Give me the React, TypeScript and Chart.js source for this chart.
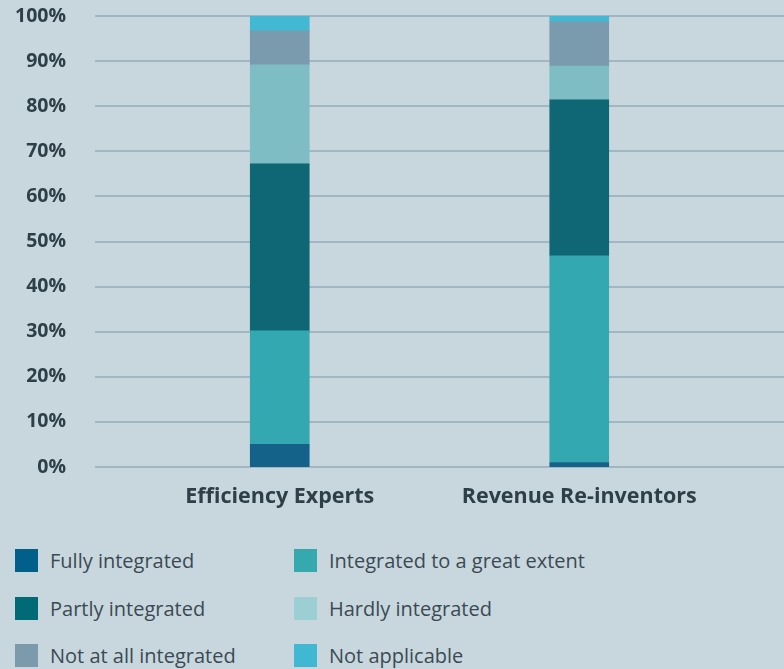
import React, { useEffect, useRef } from "react";
import { Chart, registerables } from "chart.js";

Chart.register(...registerables);

const categories = ["Efficiency Experts", "Revenue Re-inventors"];
const seriesNames = [
  "Fully integrated",
  "Integrated to a great extent",
  "Partly integrated",
  "Hardly integrated",
  "Not at all integrated",
  "Not applicable",
];
const fullyIntegrated = [5, 1];
const greatExtent = [25.2, 45.8];
const partlyIntegrated = [37, 34.6];
const hardlyIntegrated = [22, 7.5];
const notAtAll = [7.5, 9.8];
const notApplicable = [3.3, 1.3];
const yTicks = [0, 10, 20, 30, 40, 50, 60, 70, 80, 90, 100];

const barColors = ["#14628a", "#34a8b0", "#0f6674", "#7dbdc3", "#7a9bad", "#42b9d2"];
const legendColors = ["#00608a", "#36a9ae", "#006a76", "#9ccfd3", "#7b9bad", "#41b8d2"];

const BG = "#c8d7de";
const GRID = "#a2b6c1";
const TEXT = "#2f3f48";
const FONT = "'Open Sans', 'Noto Sans', sans-serif";

const gridPlugin = {
  id: "extendedGrid",
  beforeDatasetsDraw(chart: any) {
    const { ctx, scales, chartArea, width } = chart;
    const y = scales.y;
    ctx.save();
    ctx.strokeStyle = GRID;
    ctx.lineWidth = 2;
    yTicks.forEach((t) => {
      const py = Math.round(y.getPixelForValue(t));
      ctx.beginPath();
      ctx.moveTo(chartArea.left - 35, py);
      ctx.lineTo(width, py);
      ctx.stroke();
    });
    ctx.restore();
  },
};

export default function App() {
  const ref = useRef<HTMLCanvasElement | null>(null);
  useEffect(() => {
    if (!ref.current) return;
    const values = [fullyIntegrated, greatExtent, partlyIntegrated, hardlyIntegrated, notAtAll, notApplicable];
    const chart = new Chart(ref.current, {
      type: "bar",
      data: {
        labels: categories,
        datasets: seriesNames.map((name, i) => ({
          label: name,
          data: values[i],
          backgroundColor: barColors[i],
          borderWidth: 0,
          barThickness: 59,
        })),
      },
      options: {
        animation: false,
        responsive: false,
        maintainAspectRatio: false,
        layout: { padding: { top: 16, left: 16, right: 55, bottom: 11 } },
        plugins: { legend: { display: false }, tooltip: { enabled: false } },
        scales: {
          x: {
            stacked: true,
            grid: { display: false, drawTicks: false },
            border: { display: false },
            afterFit: (scale: any) => {
              scale.paddingLeft = 0;
              scale.paddingRight = 0;
              scale.height = 42;
            },
            ticks: {
              padding: 17,
              maxRotation: 0,
              minRotation: 0,
              color: TEXT,
              font: { family: FONT, size: 21.5, weight: "bold" },
            },
          },
          y: {
            stacked: true,
            min: 0,
            max: 100,
            afterBuildTicks: (scale: any) => {
              scale.ticks = yTicks.map((v) => ({ value: v }));
            },
            afterFit: (scale: any) => {
              scale.paddingTop = 0;
              scale.paddingBottom = 0;
              scale.width = 114;
            },
            grid: { display: false, drawTicks: false },
            border: { display: false },
            ticks: {
              padding: 64,
              color: TEXT,
              font: { family: FONT, size: 19.5, weight: "bold" },
              callback: (v: any) => v + "%",
            },
          },
        },
      },
      plugins: [gridPlugin],
    });
    return () => chart.destroy();
  }, []);

  return (
    <div
      style={{
        position: "fixed",
        left: 0,
        top: 0,
        width: 784,
        height: 669,
        background: BG,
        overflow: "hidden",
      }}
    >
      <canvas ref={ref} width={784} height={520} style={{ display: "block" }} />
      {seriesNames.map((name, i) => {
        const col = i % 2;
        const row = Math.floor(i / 2);
        return (
          <div
            key={name}
            style={{
              position: "absolute",
              left: col === 0 ? 15 : 294,
              top: 549 + row * 47.5,
              display: "flex",
              alignItems: "center",
              height: 23,
            }}
          >
            <span
              style={{
                display: "inline-block",
                width: 23,
                height: 23,
                background: legendColors[i],
                marginRight: 12,
              }}
            />
            <span style={{ fontFamily: FONT, fontSize: 20, color: "#3b4a52", whiteSpace: "nowrap" }}>{name}</span>
          </div>
        );
      })}
    </div>
  );
}
